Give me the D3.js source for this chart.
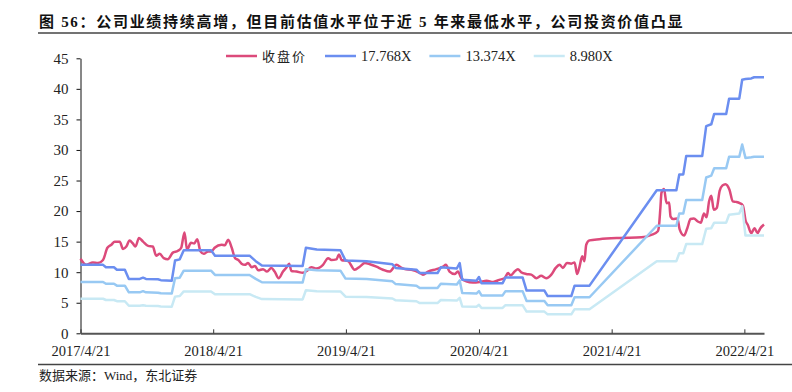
<!DOCTYPE html>
<html>
<head>
<meta charset="utf-8">
<script src="https://cdn.jsdelivr.net/npm/d3@7"></script>
<style>
  body { margin: 0; background: #fff; }
  svg { display: block; font-family: "Liberation Serif", "Noto Sans CJK SC", serif; }
</style>
</head>
<body>
<svg width="792" height="392"></svg>
<script>
// band lines share the same dates (EPS changes on report dates)
const bandDates = [
  "2017-04-21","2017-06-22","2017-06-30","2017-07-22","2017-07-30","2017-08-21","2017-09-01","2017-10-01","2017-10-10","2017-10-18",
  "2017-11-20","2017-11-28","2017-12-28","2018-01-06","2018-01-19","2018-01-30","2018-04-15","2018-04-26","2018-07-30","2018-08-16",
  "2018-09-02","2018-12-23","2019-01-01","2019-01-31","2019-04-06","2019-04-20","2019-06-17","2019-08-27","2019-09-05","2019-11-01",
  "2019-11-10","2019-12-29","2020-01-07","2020-02-20","2020-02-28","2020-03-06","2020-04-14","2020-04-21","2020-04-28","2020-06-25",
  "2020-07-03","2020-08-19","2020-08-30","2020-10-18","2020-10-27","2020-12-31","2021-01-09","2021-02-19","2021-08-23","2021-10-16",
  "2021-10-24","2021-11-04","2021-11-12","2021-12-26","2022-01-06","2022-01-20","2022-01-28","2022-03-02","2022-03-10","2022-04-07",
  "2022-04-15","2022-04-24","2022-05-10","2022-05-18","2022-06-14"
];
const pe17 = [
  11.2, 11.2, 10.8, 10.8, 10.4, 10.4, 8.9, 8.9, 9.1, 8.9,
  8.85, 8.7, 8.6, 11.9, 12.1, 13.6, 13.6, 12.7, 12.7, 11.8,
  11.1, 11.0, 14.0, 13.7, 13.6, 11.9, 11.8, 11.3, 10.7, 10.4,
  9.85, 9.85, 10.8, 10.6, 11.5, 8.75, 8.6, 9.2, 8.2, 8.2,
  9.15, 9.15, 7.0, 7.0, 6.1, 6.1, 7.8, 7.8, 23.4, 23.4,
  26.0, 26.0, 29.0, 29.0, 33.9, 34.2, 35.9, 35.9, 38.4, 38.4,
  41.5, 41.6, 41.7, 41.9, 41.9
];
const pe13 = [
  8.4, 8.4, 8.1, 8.1, 7.8, 7.8, 6.7, 6.7, 6.9, 6.7,
  6.65, 6.55, 6.5, 9.0, 9.1, 10.25, 10.25, 9.55, 9.55, 8.9,
  8.35, 8.3, 10.5, 10.3, 10.25, 8.95, 8.9, 8.5, 8.05, 7.8,
  7.4, 7.4, 8.1, 8.0, 8.65, 6.6, 6.5, 6.9, 6.2, 6.2,
  6.9, 6.9, 5.3, 5.3, 4.6, 4.6, 5.9, 5.9, 17.6, 17.6,
  19.6, 19.6, 21.8, 21.8, 25.5, 25.8, 27.0, 27.0, 28.9, 28.9,
  30.9, 28.7, 28.8, 28.9, 28.9
];
const pe9 = [
  5.65, 5.65, 5.45, 5.45, 5.25, 5.25, 4.5, 4.5, 4.6, 4.5,
  4.45, 4.4, 4.35, 6.0, 6.1, 6.85, 6.85, 6.4, 6.4, 5.95,
  5.6, 5.55, 7.05, 6.9, 6.85, 6.0, 5.95, 5.7, 5.4, 5.25,
  4.95, 4.95, 5.45, 5.35, 5.8, 4.4, 4.35, 4.65, 4.15, 4.15,
  4.6, 4.6, 3.55, 3.55, 3.1, 3.1, 3.95, 3.95, 11.8, 11.8,
  13.1, 13.1, 14.6, 14.6, 17.1, 17.2, 18.1, 18.1, 19.4, 19.6,
  20.8, 16.0, 16.0, 16.0, 16.0
];

const priceDates = [
  "2017-04-21","2017-05-07","2017-05-25","2017-06-08","2017-06-22","2017-07-04","2017-07-15","2017-07-24","2017-08-07","2017-08-16",
  "2017-08-25","2017-09-03","2017-09-12","2017-09-19","2017-09-29","2017-10-10","2017-10-24","2017-11-06","2017-11-15","2017-11-25",
  "2017-12-06","2017-12-17","2017-12-31","2018-01-14","2018-01-23","2018-02-01","2018-02-08","2018-02-19","2018-02-28","2018-03-08",
  "2018-03-17","2018-03-26","2018-04-07","2018-04-16","2018-04-25","2018-05-14","2018-05-23","2018-06-01","2018-06-11","2018-06-20",
  "2018-06-29","2018-07-08","2018-07-17","2018-07-26","2018-08-05","2018-08-14","2018-08-23","2018-09-05","2018-09-16","2018-09-28",
  "2018-10-07","2018-10-18","2018-10-30","2018-11-09","2018-11-16","2018-11-22","2018-12-06","2018-12-24","2019-01-03","2019-01-16",
  "2019-01-30","2019-02-17","2019-03-03","2019-03-12","2019-03-26","2019-04-02","2019-04-09","2019-04-27","2019-05-15","2019-05-29",
  "2019-06-12","2019-06-26","2019-07-14","2019-08-01","2019-08-19","2019-09-07","2019-09-21","2019-09-30","2019-10-18","2019-11-10",
  "2019-11-19","2019-12-03","2019-12-26","2020-01-13","2020-01-21","2020-01-31","2020-02-14","2020-02-23","2020-03-04","2020-03-17",
  "2020-04-04","2020-04-23","2020-05-12","2020-05-30","2020-06-16","2020-06-30","2020-07-10","2020-07-17","2020-07-28","2020-08-06",
  "2020-08-15","2020-08-29","2020-09-12","2020-09-26","2020-10-09","2020-10-23","2020-11-06","2020-11-18","2020-11-29","2020-12-08",
  "2020-12-19","2020-12-31","2021-01-09","2021-01-16","2021-01-23","2021-01-30","2021-02-05","2021-02-10","2021-02-19","2021-03-18",
  "2021-05-12","2021-07-12","2021-08-08","2021-08-26","2021-08-29","2021-09-02","2021-09-05","2021-09-12","2021-09-19","2021-09-26",
  "2021-09-30","2021-10-07","2021-10-19","2021-10-25","2021-11-06","2021-11-15","2021-11-24","2021-12-03","2021-12-14","2021-12-22",
  "2021-12-31","2022-01-07","2022-01-14","2022-01-20","2022-01-27","2022-02-04","2022-02-12","2022-02-20","2022-02-28","2022-03-11",
  "2022-03-20","2022-03-29","2022-04-08","2022-04-17","2022-04-25","2022-04-30","2022-05-10","2022-05-19","2022-05-27","2022-06-04",
  "2022-06-14"
];
const price = [
  12.2, 11.2, 11.6, 11.5, 12.0, 14.0, 14.5, 15.0, 15.0, 13.8,
  14.2, 15.2, 14.7, 14.2, 15.6, 15.0, 14.3, 14.2, 12.7, 13.0,
  12.3, 12.1, 13.2, 13.5, 14.0, 16.5, 13.7, 14.8, 14.7, 15.4,
  13.4, 13.0, 13.4, 13.4, 14.0, 14.5, 14.4, 15.3, 14.0, 12.3,
  12.0, 11.4, 11.2, 11.5, 10.8, 11.0, 10.3, 10.5, 10.1, 10.7,
  10.1, 9.0, 10.1, 10.8, 11.4, 10.2, 10.1, 9.9, 10.2, 10.8,
  10.6, 11.2, 12.3, 12.0, 12.1, 12.9, 12.0, 11.8, 10.4, 10.9,
  11.5, 11.3, 10.9, 10.4, 10.1, 11.2, 10.7, 10.5, 10.4, 9.9,
  9.6, 10.1, 10.5, 10.9, 11.2, 10.1, 9.7, 10.1, 9.0, 8.5,
  8.3, 8.4, 8.6, 8.4, 8.75, 9.0, 9.85, 9.5, 10.1, 10.5,
  10.0, 9.7, 9.6, 9.0, 9.4, 9.0, 9.6, 10.7, 11.2, 10.7,
  11.5, 11.4, 11.6, 9.7, 11.0, 12.6, 11.8, 14.5, 15.2, 15.4,
  15.6, 15.7, 16.1, 16.7, 17.5, 20.5, 23.0, 23.6, 21.3, 21.4,
  19.1, 18.7, 18.8, 17.0, 16.0, 17.2, 18.7, 18.8, 18.3, 18.1,
  19.6, 19.0, 21.6, 22.5, 20.2, 20.5, 23.3, 24.2, 24.4, 23.5,
  21.6, 21.5, 21.3, 20.9, 18.3, 17.8, 16.4, 17.2, 16.4, 17.2,
  17.8
];

const seriesNames = ["收盘价", "17.768X", "13.374X", "8.980X"];
const seriesColors = ["#dc4a7b", "#6b8ef0", "#98c9f3", "#c8e9f4"];
const xTickLabels = ["2017/4/21", "2018/4/21", "2019/4/21", "2020/4/21", "2021/4/21", "2022/4/21"];
const yTicks = [0, 5, 10, 15, 20, 25, 30, 35, 40, 45];
const startDate = "2017-04-21";
const endDate = "2022-06-14";

function draw() {
    let svg = d3.select("svg");
    let parseDate = d3.timeParse("%Y-%m-%d");
    let parseTick = d3.timeParse("%Y/%m/%d");

    svg.append("rect").attr("width", 792).attr("height", 392).attr("fill", "#fff");

    // title + rules
    svg.append("text")
        .attr("x", 39)
        .attr("y", 26.5)
        .attr("font-size", "15px")
        .attr("font-weight", "bold")
        .attr("letter-spacing", "1.7px")
        .attr("fill", "#111")
        .text("图 56：公司业绩持续高增，但目前估值水平位于近 5 年来最低水平，公司投资价值凸显");

    svg.append("line")
        .attr("x1", 38).attr("x2", 792).attr("y1", 33).attr("y2", 33)
        .attr("stroke", "#444").attr("stroke-width", 1.5);

    svg.append("line")
        .attr("x1", 38).attr("x2", 792).attr("y1", 364.5).attr("y2", 364.5)
        .attr("stroke", "#444").attr("stroke-width", 1.5);

    svg.append("text")
        .attr("x", 39)
        .attr("y", 380)
        .attr("font-size", "13px")
        .attr("fill", "#222")
        .text("数据来源：Wind，东北证券");

    let x = d3.scaleTime()
        .domain([parseDate(startDate), parseDate(endDate)])
        .range([80.5, 764]);

    let y = d3.scaleLinear()
        .domain([0, 45])
        .range([333.3, 58.3]);

    // axes
    let yAxis = svg.append("g")
        .attr("transform", "translate(80.5,0)")
        .call(d3.axisLeft(y).tickValues(yTicks).tickSize(4).tickPadding(8).tickSizeOuter(0));
    yAxis.select(".domain").attr("stroke", "#111");
    yAxis.selectAll(".tick line").attr("stroke", "#111");
    yAxis.selectAll("text")
        .attr("font-size", "15px")
        .attr("font-family", "Liberation Serif, serif")
        .attr("fill", "#222");

    let xAxis = svg.append("g")
        .attr("transform", "translate(0,333.3)")
        .call(d3.axisBottom(x)
            .tickValues(xTickLabels.map(parseTick))
            .tickFormat((d, i) => xTickLabels[i])
            .tickSize(-4)
            .tickPadding(12)
            .tickSizeOuter(0));
    xAxis.select(".domain").attr("stroke", "#555").attr("stroke-width", 2);
    xAxis.selectAll(".tick line").attr("stroke", "#333");
    xAxis.selectAll("text")
        .attr("font-size", "14.5px")
        .attr("font-family", "Liberation Serif, serif")
        .attr("fill", "#222");

    // lines
    let series = [
        priceDates.map((d, i) => [parseDate(d), price[i]]),
        bandDates.map((d, i) => [parseDate(d), pe17[i]]),
        bandDates.map((d, i) => [parseDate(d), pe13[i]]),
        bandDates.map((d, i) => [parseDate(d), pe9[i]])
    ];

    let plot = svg.append("g");

    plot.selectAll(".series")
        .data(series)
        .enter()
        .append("path")
        .attr("class", "series")
        .attr("fill", "none")
        .attr("stroke", (d, i) => seriesColors[i])
        .attr("stroke-width", 2.5)
        .attr("stroke-linejoin", "round")
        .attr("d", (d, i) => d3.line()
            .x(p => x(p[0]))
            .y(p => y(p[1]))
            .curve(i == 0 ? d3.curveMonotoneX : d3.curveLinear)(d));

    // legend
    let legend = svg.append("g").attr("transform", "translate(226,56)");
    let lx = 0;
    seriesNames.forEach((name, i) => {
        let item = legend.append("g").attr("transform", `translate(${lx},0)`);
        item.append("line")
            .attr("x1", 0).attr("x2", 31)
            .attr("stroke", seriesColors[i])
            .attr("stroke-width", 2.5);
        let t = item.append("text")
            .attr("x", 36)
            .attr("dy", "0.35em")
            .attr("font-size", i == 0 ? "13px" : "14.5px")
            .attr("letter-spacing", i == 0 ? "2px" : "0px")
            .attr("fill", "#222")
            .text(name);
        lx += 36 + t.node().getComputedTextLength() + 18;
    });
}

draw();
</script>
</body>
</html>
